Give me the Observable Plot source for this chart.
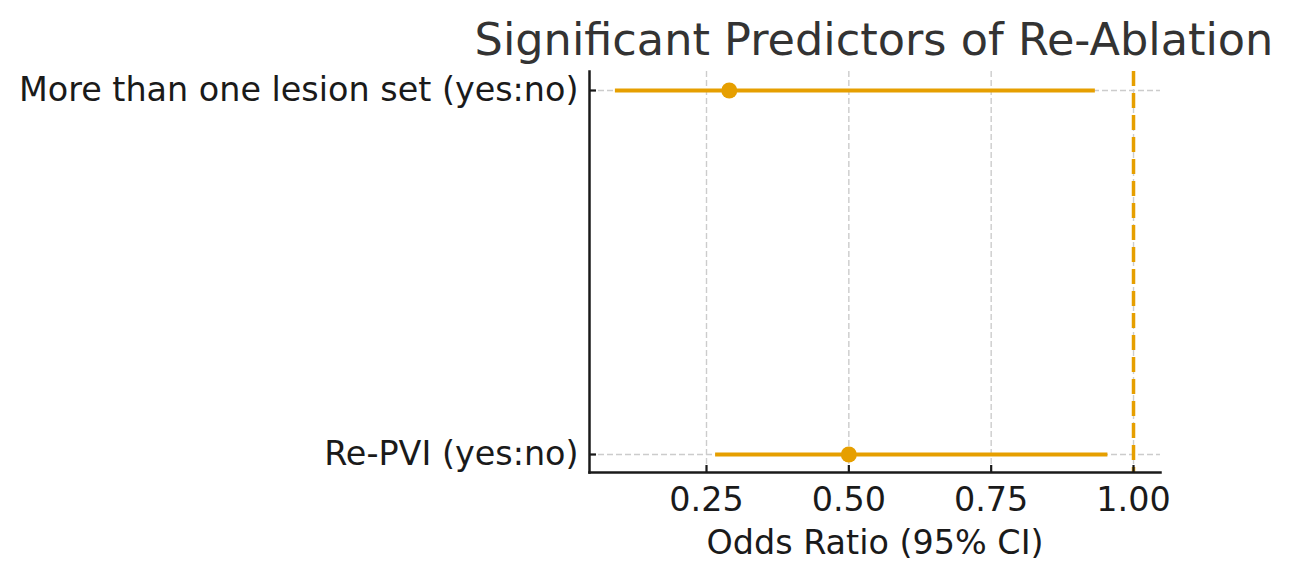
<!DOCTYPE html>
<html>
<head>
<meta charset="utf-8">
<script src="https://cdn.jsdelivr.net/npm/d3@7"></script>
<script src="https://cdn.jsdelivr.net/npm/@observablehq/plot@0.6"></script>
<style>
  html, body { margin: 0; padding: 0; background: #fff; }
  body { width: 1293px; height: 580px; overflow: hidden; font-family: "DejaVu Sans", sans-serif; }
  #title {
    height: 62px; box-sizing: border-box; padding-top: 18px; padding-left: 455px;
    font-size: 44.6px; line-height: 44px; color: #333333; text-align: center; white-space: nowrap;
  }
</style>
</head>
<body>
<div id="title">Significant Predictors of Re-Ablation</div>
<div id="chart"></div>
<script>
const labels = ["More than one lesion set (yes:no)", "Re-PVI (yes:no)"];
const oddsRatios = [0.29, 0.50];
const ciLower = [0.09, 0.266];
const ciUpper = [0.933, 0.955];
const xTicks = [0.25, 0.50, 0.75, 1.00];
const refValue = [1.0];
const xDomain = [0.0445, 1.0474];
const xLabel = "Odds Ratio (95% CI)";

const rows = labels.map((label, i) => ({label, or: oddsRatios[i], lo: ciLower[i], hi: ciUpper[i]}));
const orange = "#E69F00";
const ink = "#1a1a1a";

const chart = Plot.plot({
  width: 1293,
  height: 518,
  marginTop: 9,
  marginBottom: 108,
  marginLeft: 589,
  marginRight: 133,
  style: {fontFamily: "DejaVu Sans, sans-serif", fontSize: "33.4px", color: ink, background: "#fff"},
  x: {domain: xDomain, label: null},
  y: {type: "point", domain: labels, padding: 0.05, label: null},
  marks: [
    Plot.gridX(xTicks, {stroke: "#cccccc", strokeOpacity: 1, strokeWidth: 1.4, strokeDasharray: "6,3"}),
    Plot.gridY(labels, {stroke: "#cccccc", strokeOpacity: 1, strokeWidth: 1.4, strokeDasharray: "6,3"}),
    Plot.ruleX(refValue, {stroke: orange, strokeWidth: 3.5, strokeDasharray: "15,7"}),
    Plot.ruleY(rows, {y: "label", x1: "lo", x2: "hi", stroke: orange, strokeWidth: 4}),
    Plot.dot(rows, {x: "or", y: "label", r: 8, fill: orange, stroke: null}),
    Plot.axisX(xTicks, {tickSize: -7, strokeWidth: 2.2, stroke: ink, strokeOpacity: 1, text: null, label: null}),
    Plot.axisX(xTicks, {tickSize: 0, tickPadding: 15, tickFormat: d3.format(".2f"), fill: ink, label: null}),
    Plot.axisY(labels, {tickSize: -7, strokeWidth: 2.2, stroke: ink, strokeOpacity: 1, text: null, label: null}),
    Plot.axisY(labels, {tickSize: 0, tickPadding: 11, fill: ink, label: null}),
    Plot.frame({anchor: "left", stroke: ink, strokeWidth: 2.5}),
    Plot.frame({anchor: "bottom", stroke: ink, strokeWidth: 2.5}),
    Plot.text([xLabel], {frameAnchor: "bottom", dy: 81, fill: ink, lineAnchor: "bottom", fontSize: 33.4})
  ]
});
document.getElementById("chart").appendChild(chart);
</script>
</body>
</html>
